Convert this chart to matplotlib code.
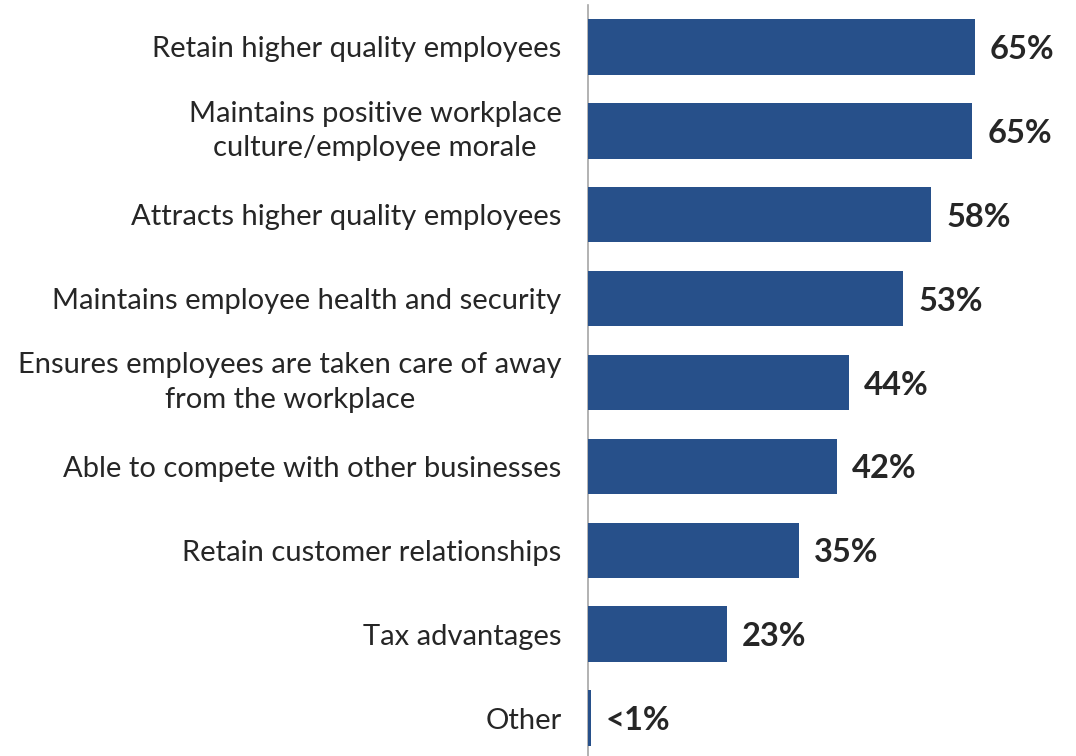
import matplotlib.pyplot as plt

# Reasons for offering the benefit (share of respondents)
reasons = [
    "Retain higher quality employees",
    "Maintains positive workplace\nculture/employee morale",
    "Attracts higher quality employees",
    "Maintains employee health and security",
    "Ensures employees are taken care of away\nfrom the workplace",
    "Able to compete with other businesses",
    "Retain customer relationships",
    "Tax advantages",
    "Other",
]
shares = [65.0, 64.6, 57.7, 53.0, 43.8, 41.8, 35.4, 23.3, 0.5]
value_labels = ["65%", "65%", "58%", "53%", "44%", "42%", "35%", "23%", "<1%"]

bar_color = "#27508a"
text_color = "#262626"

plt.rcParams['font.family'] = ['Lato', 'DejaVu Sans']

fig = plt.figure(figsize=(10.76, 7.56), dpi=100)
ax = fig.add_axes([588 / 1076, -4 / 756, 1 - 588 / 1076, 755 / 756])

pos = list(range(len(reasons)))
ax.barh(pos, shares, height=0.66, color=bar_color, zorder=3)
ax.set_ylim(8.5, -0.5)
ax.set_xlim(0, 82)

for i in pos:
    ax.text(shares[i] + 2.5, i + 0.03, value_labels[i], va="center", ha="left",
            fontsize=23.5, fontweight="bold", color=text_color)

ax.set_yticks(pos)
ax.set_yticklabels(reasons, fontsize=21, color=text_color,
                   multialignment="center", linespacing=1.4)
# two-line labels centred on their bar
for lbl in ax.get_yticklabels():
    if "\n" in lbl.get_text():
        lbl.set_verticalalignment("center")
ax.tick_params(axis="y", length=0, pad=19)
ax.set_xticks([])

for side in ["top", "right", "bottom"]:
    ax.spines[side].set_visible(False)
ax.spines["left"].set_color("#a6a6a6")
ax.spines["left"].set_linewidth(1.2)

fig.savefig("out.png", dpi=100)
